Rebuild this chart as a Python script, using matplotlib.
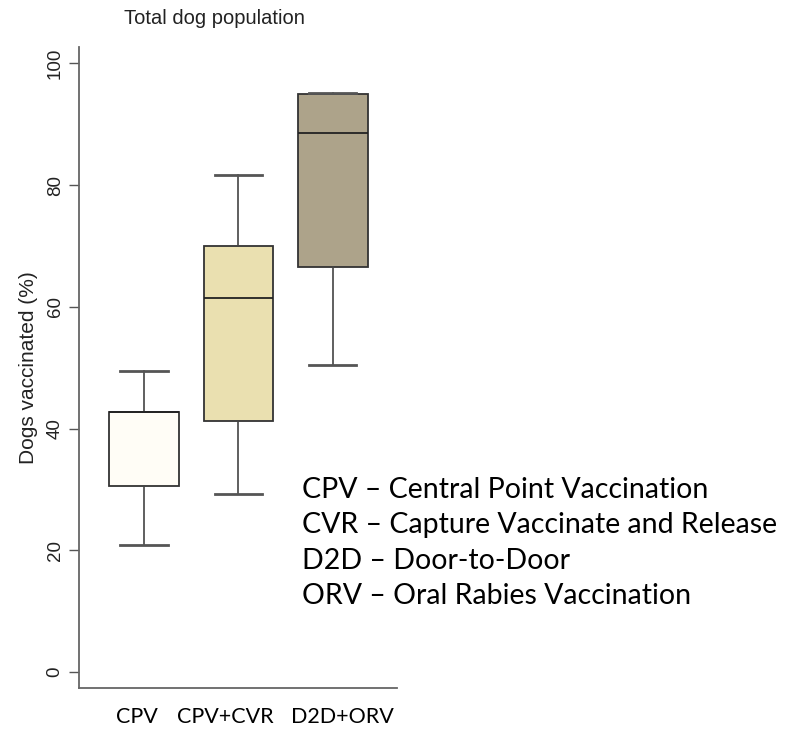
import numpy as np
import matplotlib
matplotlib.use("Agg")
import matplotlib.pyplot as plt

# groups and their box summaries (% dogs vaccinated)
groups = ["CPV", "CPV+CVR", "D2D+ORV"]
whisker_low = [20.9, 29.3, 50.5]
q1 = [30.6, 41.3, 66.5]
median = [42.7, 61.5, 88.6]
q3 = [42.7, 70.0, 95.0]
whisker_high = [49.5, 81.6, 95.2]
box_colors = ["#FFFDF6", "#EAE0B0", "#ADA38A"]

y_ticks = [0, 20, 40, 60, 80, 100]

legend_lines = [
    "CPV \u2013 Central Point Vaccination",
    "CVR \u2013 Capture Vaccinate and Release",
    "D2D \u2013 Door-to-Door",
    "ORV \u2013 Oral Rabies Vaccination",
]


def main():
    fig = plt.figure(figsize=(7.85, 7.29), dpi=100)
    ax = fig.add_axes([0.1006, 0.0562, 0.4051, 0.8793])

    stats = []
    for i in range(len(groups)):
        stats.append({
            "label": groups[i],
            "whislo": whisker_low[i],
            "q1": q1[i],
            "med": median[i],
            "q3": q3[i],
            "whishi": whisker_high[i],
        })

    bp = ax.bxp(stats, positions=[1, 2, 3], widths=0.74, patch_artist=True,
                showfliers=False,
                boxprops=dict(edgecolor="#333333", linewidth=1.3),
                medianprops=dict(color="#222222", linewidth=1.3),
                whiskerprops=dict(color="#444444", linewidth=1.2),
                capprops=dict(color="#555555", linewidth=2.0))
    for box, c in zip(bp["boxes"], box_colors):
        box.set_facecolor(c)
    for cap in bp["caps"]:
        xd = cap.get_xdata()
        mid = np.mean(xd)
        cap.set_xdata([mid - 0.25, mid + 0.25])

    ax.set_xlim(0.31, 3.68)
    ax.set_ylim(-2.6, 102.7)
    ax.set_yticks(y_ticks)
    ax.set_yticklabels([str(t) for t in y_ticks], rotation=90, va="center",
                       fontsize=13.5, family="Liberation Sans", color="#222222")
    ax.tick_params(axis="y", length=7, width=1, color="#555555", pad=4)

    # group labels were typed in below the axis, slightly off the box centres
    ax.set_xticks([0.925, 1.86, 3.1])
    ax.tick_params(axis="x", length=0, pad=14)
    ax.set_xticklabels(groups, fontsize=15.5, family="Lato", color="black")

    for s in ["top", "right"]:
        ax.spines[s].set_visible(False)
    for s in ["left", "bottom"]:
        ax.spines[s].set_color("#666666")
        ax.spines[s].set_linewidth(1.3)

    ax.set_ylabel("Dogs vaccinated (%)", fontsize=15, family="Liberation Sans",
                  color="#222222", labelpad=6)

    fig.text(0.2726, 0.975, "Total dog population", ha="center", va="center",
             fontsize=14.5, family="Liberation Sans", color="#222222")

    for k, line in enumerate(legend_lines):
        fig.text(0.3847, 1 - (490 + 35.5 * k) / 729, line, ha="left",
                 va="center", fontsize=20.5, family="Lato", color="black")

    fig.savefig("out.png", dpi=100)


if __name__ == "__main__":
    main()
